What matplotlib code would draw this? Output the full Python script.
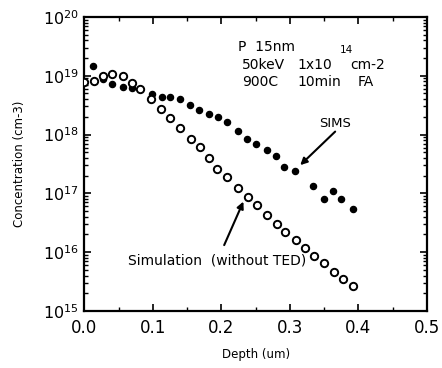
import numpy as np
import matplotlib
matplotlib.use("Agg")
import matplotlib.pyplot as plt
from matplotlib.ticker import LogLocator, FixedLocator, NullFormatter

# Simulation (without TED), open circles: depth (um), log10 concentration
sim_depth = [0.000, 0.0135, 0.027, 0.040, 0.0556, 0.070, 0.0814, 0.0977, 0.112,
             0.1246, 0.1396, 0.155, 0.168, 0.1816, 0.194, 0.208, 0.224, 0.239,
             0.252, 0.266, 0.281, 0.293, 0.309, 0.322, 0.3345, 0.350, 0.364,
             0.377, 0.392]
sim_log = [18.895, 18.91, 18.997, 19.03, 18.99, 18.87, 18.77, 18.61, 18.44,
           18.28, 18.11, 17.92, 17.78, 17.60, 17.42, 17.28, 17.09, 16.93,
           16.80, 16.63, 16.48, 16.35, 16.21, 16.07, 15.94, 15.81, 15.66,
           15.54, 15.42]

# SIMS, filled dots
sims_depth = [0.0129, 0.0266, 0.040, 0.0556, 0.070, 0.098, 0.1126, 0.1246,
              0.1396, 0.154, 0.1667, 0.1816, 0.195, 0.208, 0.224, 0.238,
              0.250, 0.266, 0.280, 0.292, 0.3077, 0.334, 0.349, 0.363,
              0.375, 0.3915]
sims_log = [19.167, 18.946, 18.86, 18.815, 18.79, 18.69, 18.645, 18.63,
            18.60, 18.51, 18.42, 18.35, 18.29, 18.21, 18.06, 17.93,
            17.835, 17.73, 17.64, 17.44, 17.38, 17.12, 16.91, 17.04,
            16.91, 16.73]

x_ticks = [0.0, 0.1, 0.2, 0.3, 0.4, 0.5]
x_labels = ["0.0", "0.1", "0.2", "0.3", "0.4", "0.5"]
y_exps = [15, 16, 17, 18, 19, 20]

plt.rcParams['font.family'] = ['DejaVu Sans']

fig = plt.figure(figsize=(4.42, 3.68), dpi=100)
ax = fig.add_axes([0.191, 0.155, 0.775, 0.799])

sim_conc = 10 ** np.array(sim_log)
sims_conc = 10 ** np.array(sims_log)

ax.plot(sims_depth, sims_conc, 'o', color='black', markersize=4.4,
        linestyle='none', zorder=3)
ax.plot(sim_depth, sim_conc, 'o', markerfacecolor='white', markeredgecolor='black',
        markeredgewidth=1.4, markersize=5.3, linestyle='none', zorder=4)

ax.set_yscale('log')
ax.set_xlim(0.0, 0.5)
ax.set_ylim(1e15, 1e20)

ax.set_xticks(x_ticks)
ax.set_xticklabels(x_labels, fontsize=12)
ax.xaxis.set_minor_locator(FixedLocator([0.05, 0.15, 0.25, 0.35, 0.45]))

ax.set_yticks([10.0 ** e for e in y_exps])
ax.set_yticklabels([r"$\mathregular{10^{%d}}$" % e for e in y_exps], fontsize=11.5)
ax.yaxis.set_minor_locator(LogLocator(base=10, subs=np.arange(2, 10), numticks=20))
ax.yaxis.set_minor_formatter(NullFormatter())

ax.tick_params(which='major', direction='in', length=5, width=1.2,
               top=True, right=True, pad=4)
ax.tick_params(which='minor', direction='in', length=3, width=1.0,
               top=True, right=True)
ax.tick_params(axis='x', pad=6)

for s in ax.spines.values():
    s.set_linewidth(1.6)

ax.set_xlabel("Depth (um)", fontsize=8.5, labelpad=8)
ax.set_ylabel("Concentration (cm-3)", fontsize=8.5, labelpad=12)

# condition text
fs = 10
ax.text(0.2244, 10 ** 19.495, "P  15nm", fontsize=fs, va='center', ha='left')
ax.text(0.2303, 10 ** 19.18, "50keV", fontsize=fs, va='center', ha='left')
ax.text(0.3107, 10 ** 19.18, "1x10", fontsize=fs, va='center', ha='left')
ax.text(0.3735, 10 ** 19.44, "14", fontsize=7.5, va='center', ha='left')
ax.text(0.388, 10 ** 19.18, "cm-2", fontsize=fs, va='center', ha='left')
ax.text(0.2303, 10 ** 18.90, "900C", fontsize=fs, va='center', ha='left')
ax.text(0.3107, 10 ** 18.90, "10min", fontsize=fs, va='center', ha='left')
ax.text(0.3984, 10 ** 18.90, "FA", fontsize=fs, va='center', ha='left')

# labels with arrows
ax.text(0.366, 10 ** 18.19, "SIMS", fontsize=9.5, ha='center', va='center')
ax.annotate("", xy=(0.315, 10 ** 17.48), xytext=(0.366, 10 ** 18.05),
            arrowprops=dict(arrowstyle='-|>', color='black', lw=1.5,
                            mutation_scale=10, shrinkA=0, shrinkB=0))
ax.text(0.1937, 10 ** 15.85, "Simulation  (without TED)", fontsize=10,
        ha='center', va='center')
ax.annotate("", xy=(0.232, 10 ** 16.86), xytext=(0.204, 10 ** 16.12),
            arrowprops=dict(arrowstyle='-|>', color='black', lw=1.5,
                            mutation_scale=10, shrinkA=0, shrinkB=0))

fig.savefig("out.png", dpi=100)
